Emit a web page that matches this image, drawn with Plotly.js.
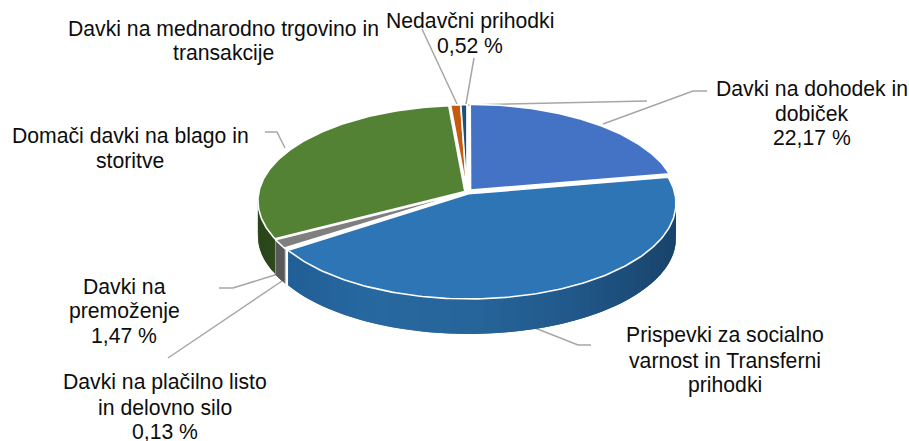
<!DOCTYPE html>
<html>
<head>
<meta charset="utf-8">
<script src="https://cdn.plot.ly/plotly-3.0.1.min.js"></script>
<style>html,body{margin:0;padding:0;background:#fff}#chart{width:909px;height:441px}</style>
</head>
<body>
<div id="chart"></div>
<script>
// --- data, clockwise from the top of the pie ---
const categories = ['Davki na dohodek in dobiček','Prispevki za socialno varnost in Transferni prihodki','Davki na plačilno listo in delovno silo','Davki na premoženje','Domači davki na blago in storitve','Davki na mednarodno trgovino in transakcije','Nedavčni prihodki'];
const shares = [22.17, 43.3, 0.13, 1.47, 31.55, 0.86, 0.52];
const topColors = ['#4472c4','#2e75b6','#a5a5a5','#7f7f7f','#548235','#c55a11','#1f4e79'];
const explodeBySlice = [0.027, 0.02, 0.008, 0.008, 0.012, 0.015, 0.015];
// wall shade stops, from the left of the pie to the right
const wallColors = [
  ['#26487f','#26487f'],
  [[31,92,146],[39,104,160],[38,101,154],[33,88,138],[25,68,108]],
  ['#63636a','#63636a'],
  ['#595959','#595959'],
  [[44,70,27],[50,84,32]],
  ['#7a3a0b','#7a3a0b'],
  ['#14324e','#14324e']
];
const labelLines = [
  ['Davki na dohodek in','dobiček','22,17 %'],
  ['Prispevki za socialno','varnost in Transferni','prihodki'],
  ['Davki na plačilno listo','in delovno silo','0,13 %'],
  ['Davki na','premoženje','1,47 %'],
  ['Domači davki na blago in','storitve'],
  ['Davki na mednarodno trgovino in','transakcije'],
  ['Nedavčni prihodki','0,52 %']
];
const labelX = [811.5, 724.5, 165, 124, 130, 223.5, 470];
const labelY = [113, 360, 407, 311, 148, 41, 33];
const lineGap = 24.7;
const leaderPaths = [
  'M603,124 L693,91 L707,91',
  'M535,328 L578,345 L591,345',
  'M285,279 L168,358',
  'M278,274 L233,288 L219,288',
  'M285,148 L277,132 L265,132',
  'M457,104 L422,29',
  'M466,104 L474,58',
  'M468,105 L647,101'
];

// --- projection of the tilted disc (with perspective) ---
const cx = 467, cy = 192, Rx = 206, Ry = 94.5, persp = 0.098, depth = 35;
function project(u, v) {
  const w = 1 - persp * v;
  return [cx + Rx * u / w, cy + Ry * v / w];
}
const rad = d => d * Math.PI / 180;
function rim(theta, off) {
  return project(Math.sin(rad(theta)) + off[0], -Math.cos(rad(theta)) + off[1]);
}
function mix(stops, t) {
  if (typeof stops[0] === 'string') return stops[0];
  const p = Math.max(0, Math.min(1, t)) * (stops.length - 1);
  const i = Math.min(Math.floor(p), stops.length - 2), f = p - i;
  const c = stops[i].map((a, k) => Math.round(a + (stops[i + 1][k] - a) * f));
  return 'rgb(' + c.join(',') + ')';
}

// --- slices ---
const total = shares.reduce((a, b) => a + b, 0);
let start = 0;
const slices = shares.map((s, i) => {
  const sweep = s / total * 360, a0 = start, a1 = start + sweep, mid = (a0 + a1) / 2;
  start = a1;
  const d = explodeBySlice[i];
  return { i, a0, a1, off: [d * Math.sin(rad(mid)), -d * Math.cos(rad(mid))] };
});

const wallTraces = [], topTraces = [];
slices.forEach(sl => {
  // side wall, as overlapping vertical strips so it can carry a smooth shade ramp
  const n = Math.max(2, Math.ceil((sl.a1 - sl.a0) / 1.5));
  const X0 = project(-1, 0)[0], X1 = project(1, 0)[0];
  for (let k = 0; k < n; k++) {
    const t0 = sl.a0 + (sl.a1 - sl.a0) * k / n;
    const t1 = sl.a0 + (sl.a1 - sl.a0) * Math.max(0, n - k - 1 > 0 ? k + 2 : k + 1) / n;
    if (-Math.cos(rad((t0 + t1) / 2)) < -0.12) continue;
    const p0 = rim(t0, sl.off), p1 = rim(t1, sl.off);
    const col = mix(wallColors[sl.i], ((p0[0] + p1[0]) / 2 - X0) / (X1 - X0) * (sl.i === 4 ? 6 : 1.0));
    wallTraces.push({
      type: 'scatter', mode: 'lines', fill: 'toself', fillcolor: col, hoverinfo: 'skip', showlegend: false,
      x: [p0[0], p1[0], p1[0], p0[0], p0[0]],
      y: [p0[1], p1[1], p1[1] + depth, p0[1] + depth, p0[1]],
      line: { color: col, width: 0 }
    });
  }
  // top face
  const xs = [], ys = [];
  const apex = project(sl.off[0], sl.off[1]);
  xs.push(apex[0]); ys.push(apex[1]);
  const m = Math.max(2, Math.ceil((sl.a1 - sl.a0) / 1));
  for (let k = 0; k <= m; k++) {
    const p = rim(sl.a0 + (sl.a1 - sl.a0) * k / m, sl.off);
    xs.push(p[0]); ys.push(p[1]);
  }
  xs.push(apex[0]); ys.push(apex[1]);
  topTraces.push({
    type: 'scatter', mode: 'lines', fill: 'toself', fillcolor: topColors[sl.i],
    x: xs, y: ys, name: categories[sl.i], text: shares[sl.i] + ' %', hoverinfo: 'name+text', showlegend: false,
    line: { color: '#ffffff', width: 1.6 }
  });
});

const annotations = [];
labelLines.forEach((lines, i) => {
  lines.forEach((t, j) => {
    annotations.push({
      text: t, x: labelX[i], y: labelY[i] + (j - (lines.length - 1) / 2) * lineGap, xref: 'x', yref: 'y',
      showarrow: false, align: 'center', xanchor: 'center', yanchor: 'middle',
      font: { family: '"Liberation Sans", Arial, sans-serif', size: 21.2, color: '#0d0d0d' }
    });
  });
});

const layout = {
  width: 909, height: 441,
  margin: { l: 0, r: 0, t: 0, b: 0 },
  paper_bgcolor: '#ffffff', plot_bgcolor: '#ffffff',
  showlegend: false,
  xaxis: { range: [0, 909], visible: false, fixedrange: true },
  yaxis: { range: [441, 0], visible: false, fixedrange: true },
  shapes: leaderPaths.map(p => ({
    type: 'path', path: p, layer: 'below', xref: 'x', yref: 'y',
    line: { color: '#a6a6a6', width: 1.5 }
  })),
  annotations: annotations
};
Plotly.newPlot('chart', wallTraces.concat(topTraces), layout, { displayModeBar: false });
</script>
</body>
</html>
